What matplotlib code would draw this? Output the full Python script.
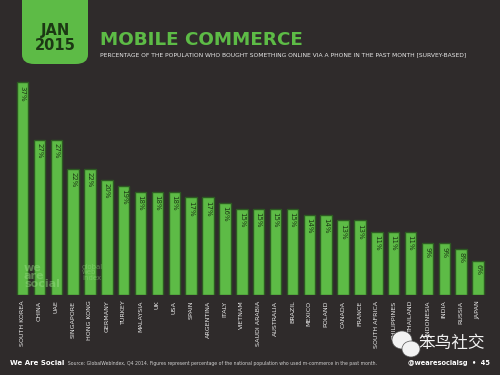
import matplotlib.pyplot as plt
from matplotlib.patches import FancyBboxPatch, Ellipse

# data
countries = ['SOUTH KOREA', 'CHINA', 'UAE', 'SINGAPORE', 'HONG KONG', 'GERMANY',
             'TURKEY', 'MALAYSIA', 'UK', 'USA', 'SPAIN', 'ARGENTINA', 'ITALY',
             'VIETNAM', 'SAUDI ARABIA', 'AUSTRALIA', 'BRAZIL', 'MEXICO', 'POLAND',
             'CANADA', 'FRANCE', 'SOUTH AFRICA', 'PHILIPPINES', 'THAILAND',
             'INDONESIA', 'INDIA', 'RUSSIA', 'JAPAN']
values = [37, 27, 27, 22, 22, 20, 19, 18, 18, 18, 17, 17, 16, 15,
          15, 15, 15, 14, 14, 13, 13, 11, 11, 11, 9, 9, 8, 6]

bg = '#2f2b2b'
green = '#5dbb46'
dark = '#1c3814'

fig = plt.figure(figsize=(5, 3.75), dpi=100)
fig.patch.set_facecolor(bg)

# header block
box = FancyBboxPatch((22 / 500, 1 - 64 / 375), 66 / 500, 80 / 375,
                     boxstyle='round,pad=0,rounding_size=0.025',
                     transform=fig.transFigure, facecolor=green, edgecolor='none')
fig.patches.append(box)
fig.text(55 / 500, 1 - 30 / 375, 'JAN', ha='center', va='center', fontsize=10.5,
         fontweight='bold', color=dark)
fig.text(55 / 500, 1 - 45 / 375, '2015', ha='center', va='center', fontsize=10.5,
         fontweight='bold', color=dark)
fig.text(100 / 500, 1 - 40 / 375, 'MOBILE COMMERCE', ha='left', va='center',
         fontsize=13.2, fontweight='bold', color=green)
fig.text(100 / 500, 1 - 54.5 / 375,
         'PERCENTAGE OF THE POPULATION WHO BOUGHT SOMETHING ONLINE VIA A PHONE IN THE PAST MONTH [SURVEY-BASED]',
         ha='left', va='center', fontsize=4.3, color='#e8e8e8')

# bars
ax = fig.add_axes([14.07 / 500, 80 / 375, 472.4 / 500, 230 / 375])
ax.set_facecolor(bg)
x = range(len(values))
ax.bar(x, values, width=0.68, color=green, edgecolor='#2d5a22', linewidth=1.0)
ax.set_xlim(-0.5, len(values) - 0.5)
ax.set_ylim(0, 40)
ax.axis('off')

for i, v in enumerate(values):
    ax.text(i, v - 0.6, f'{v}%', rotation=270, ha='center', va='top',
            fontsize=5, color=dark)
    ax.annotate(countries[i], (i, 0), xytext=(0, -4), textcoords='offset points',
                rotation=90, ha='center', va='top', fontsize=4.6, color='#e8e8e8')

# faint watermark in the bars
fig.text(24 / 500, 1 - 276 / 375, 'we\nare\nsocial', ha='left', va='center',
         fontsize=8, fontweight='bold', color='#9be088', alpha=0.45,
         linespacing=0.8)
fig.text(82 / 500, 1 - 272 / 375, 'global\nweb\nindex', ha='left', va='center',
         fontsize=5, color='#9be088', alpha=0.45, linespacing=0.9)

# footer
fig.text(10 / 500, 1 - 363 / 375, 'We Are Social', ha='left', va='center',
         fontsize=5, fontweight='bold', color='white')
fig.text(62 / 500, 1 - 363 / 375,
         '\u2022  Source: GlobalWebIndex, Q4 2014. Figures represent percentage of the national population who used m-commerce in the past month.',
         ha='left', va='center', fontsize=3.3, color='#cfcfcf')
fig.text(490 / 500, 1 - 363 / 375, '@wearesocialsg  \u2022  45', ha='right',
         va='center', fontsize=4.8, fontweight='bold', color='white')

# wechat watermark
fig.patches.append(Ellipse((402 / 500, 1 - 340 / 375), 20 / 500, 18 / 375,
                           transform=fig.transFigure, facecolor='#f2f2f2',
                           edgecolor='#555555', linewidth=0.5))
fig.patches.append(Ellipse((411 / 500, 1 - 349 / 375), 18 / 500, 16 / 375,
                           transform=fig.transFigure, facecolor='#f2f2f2',
                           edgecolor='#555555', linewidth=0.5))
fig.text(452 / 500, 1 - 343 / 375, '笨鸟社交', ha='center', va='center',
         fontsize=12, color='#f2f2f2', family=['Noto Sans CJK SC', 'DejaVu Sans'])

fig.savefig('out.png', dpi=100, facecolor=bg)
